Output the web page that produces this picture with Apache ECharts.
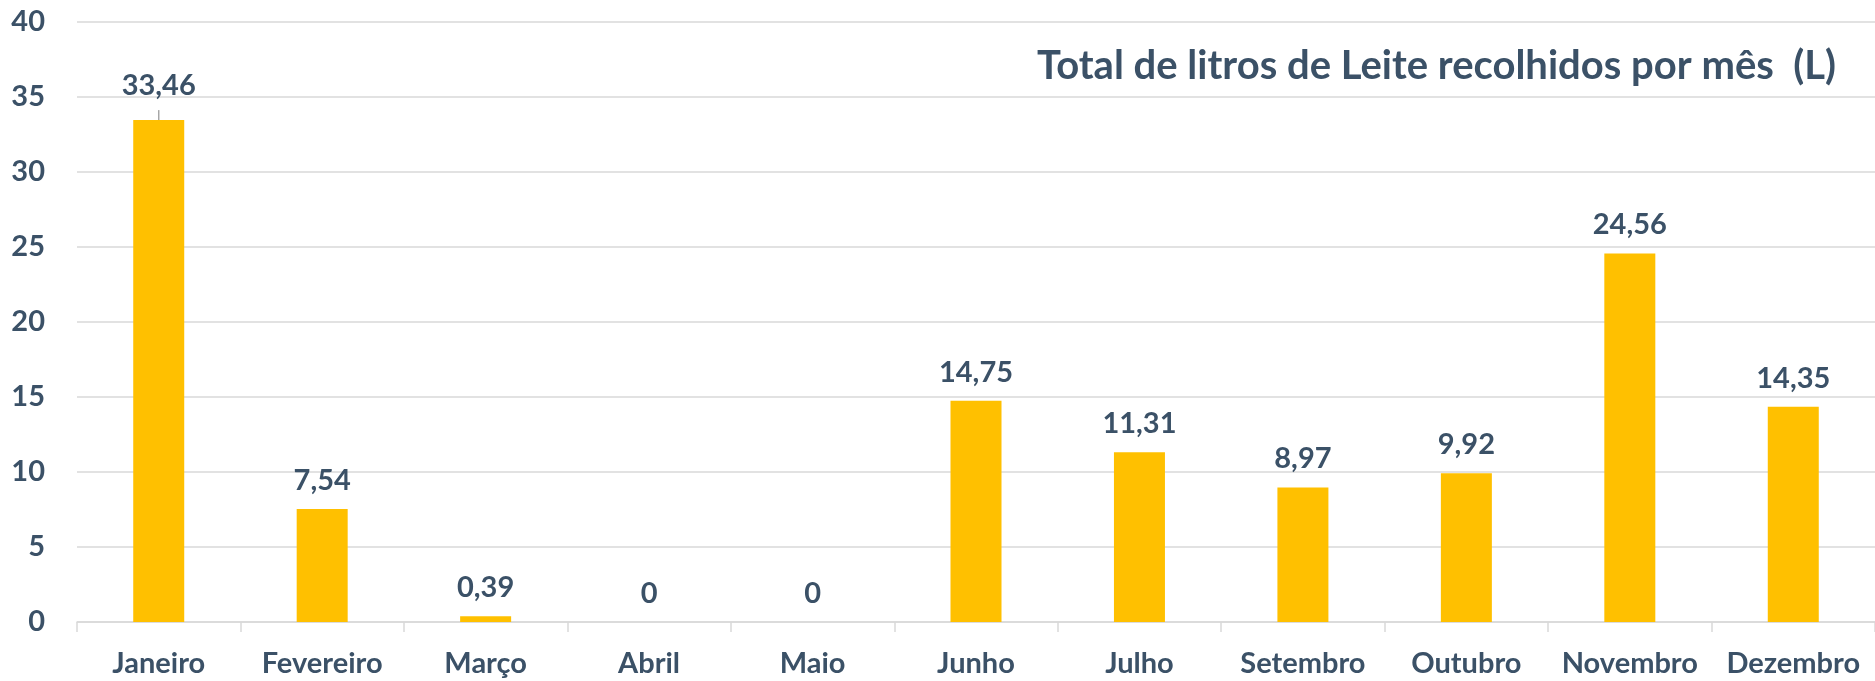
<!DOCTYPE html>
<html>
<head>
<meta charset="utf-8">
<script src="https://cdn.jsdelivr.net/npm/echarts@6/dist/echarts.min.js"></script>
<style>
  html, body { margin: 0; padding: 0; background: #ffffff; }
  #chart { width: 1875px; height: 681px; }
</style>
</head>
<body>
<div id="chart"></div>
<script>
// Monthly milk collected (litres)
const months = ['Janeiro', 'Fevereiro', 'Março', 'Abril', 'Maio', 'Junho', 'Julho', 'Setembro', 'Outubro', 'Novembro', 'Dezembro'];
const litres = [33.46, 7.54, 0.39, 0, 0, 14.75, 11.31, 8.97, 9.92, 24.56, 14.35];
const yTicks = [0, 5, 10, 15, 20, 25, 30, 35, 40];

const titleText = 'Total de litros de Leite recolhidos por mês  (L)';
const textColor = '#3B5167';
const fontFamily = 'Lato, "Open Sans", sans-serif';

const chart = echarts.init(document.getElementById('chart'));

chart.setOption({
  animation: false,
  backgroundColor: '#ffffff',
  title: {
    text: titleText,
    right: 39,
    top: 46,
    padding: 0,
    textStyle: { fontFamily: fontFamily, fontWeight: 'bold', fontSize: 40, color: textColor }
  },
  // the plot runs a little past the right edge of the canvas
  grid: { left: 77, top: 22, width: 1807, height: 600, containLabel: false },
  xAxis: {
    type: 'category',
    data: months,
    axisLine: { show: true, lineStyle: { color: '#d9d9d9', width: 1.5 } },
    axisTick: { show: true, length: 10, lineStyle: { color: '#d9d9d9', width: 1.5 } },
    axisLabel: { interval: 0, margin: 27, fontFamily: fontFamily, fontWeight: 'bold', fontSize: 29, color: textColor }
  },
  yAxis: {
    type: 'value',
    min: yTicks[0],
    max: yTicks[yTicks.length - 1],
    interval: yTicks[1] - yTicks[0],
    axisLine: { show: false },
    axisTick: { show: false },
    splitLine: { lineStyle: { color: '#d9d9d9', width: 1.5 } },
    axisLabel: { margin: 32, fontFamily: fontFamily, fontWeight: 'bold', fontSize: 29, color: textColor }
  },
  series: [{
    type: 'bar',
    data: litres.map(function (v, i) {
      // January's label is lifted and joined to its bar by a short leader line
      return i === 0
        ? {
            value: v,
            label: { padding: [0, 0, 10, 0], backgroundColor: 'rgba(255,255,255,0)' },
            labelLine: { show: true }
          }
        : v;
    }),
    barWidth: 51,
    itemStyle: { color: '#FFC000' },
    label: {
      show: true,
      position: 'top',
      distance: 14,
      fontFamily: fontFamily,
      fontWeight: 'bold',
      fontSize: 29,
      color: textColor,
      formatter: function (p) { return String(p.value).replace('.', ','); }
    },
    labelLayout: function (params) {
      return params.dataIndex === 0 ? { dy: 4 } : {};
    },
    labelLine: { show: false, lineStyle: { color: '#a6a6a6', width: 1.5 } }
  }]
});
</script>
</body>
</html>
